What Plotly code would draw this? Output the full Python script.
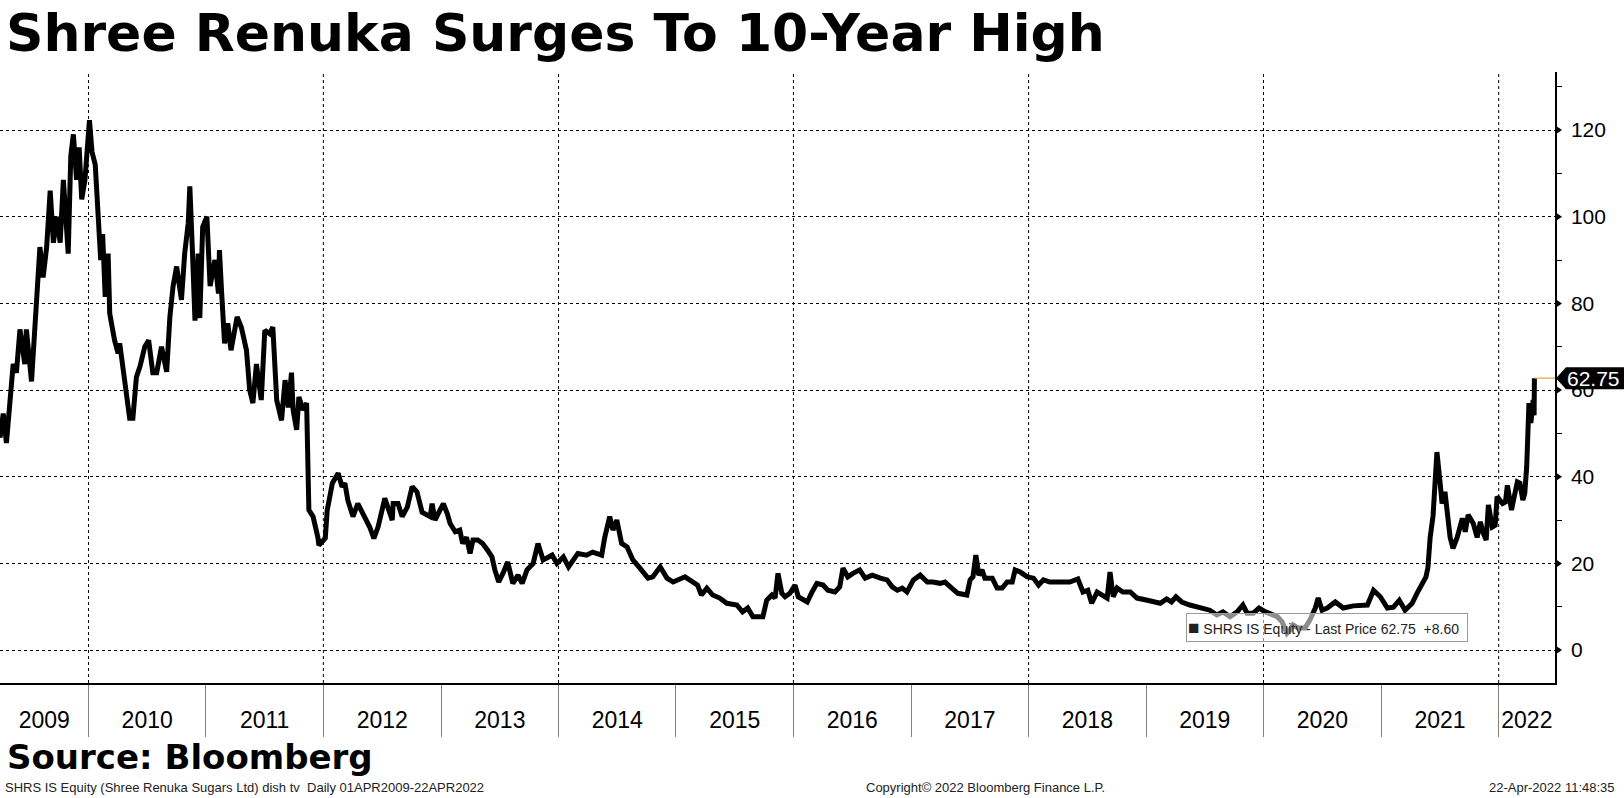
import plotly.graph_objects as go
import pandas as pd

# ---------------- data ----------------
dates = [
    "2009-04-01", "2009-04-11", "2009-04-21", "2009-05-02", "2009-05-12", "2009-05-22", "2009-06-02", "2009-06-17",
    "2009-06-22", "2009-07-08", "2009-07-18", "2009-07-23", "2009-08-03", "2009-08-13", "2009-08-24", "2009-09-04",
    "2009-09-14", "2009-09-24", "2009-10-05", "2009-10-15", "2009-10-30", "2009-11-07", "2009-11-15", "2009-11-25",
    "2009-12-03", "2009-12-11", "2009-12-21", "2010-01-04", "2010-01-12", "2010-01-22", "2010-01-29", "2010-02-08",
    "2010-02-14", "2010-02-22", "2010-03-03", "2010-03-08", "2010-03-23", "2010-04-03", "2010-04-08", "2010-04-24",
    "2010-05-09", "2010-05-19", "2010-05-30", "2010-06-10", "2010-06-25", "2010-07-07", "2010-07-20", "2010-08-01",
    "2010-08-16", "2010-09-01", "2010-09-11", "2010-09-21", "2010-10-02", "2010-10-17", "2010-10-27", "2010-11-07",
    "2010-11-12", "2010-11-20", "2010-11-28", "2010-12-08", "2010-12-13", "2010-12-22", "2011-01-04", "2011-01-14",
    "2011-01-29", "2011-02-09", "2011-02-12", "2011-02-19", "2011-02-28", "2011-03-10", "2011-03-20", "2011-04-08",
    "2011-04-21", "2011-05-07", "2011-05-17", "2011-05-27", "2011-06-07", "2011-06-22", "2011-07-03", "2011-07-18",
    "2011-07-28", "2011-08-09", "2011-08-24", "2011-09-04", "2011-09-14", "2011-09-24", "2011-09-29", "2011-10-10",
    "2011-10-17", "2011-10-30", "2011-11-10", "2011-11-17", "2011-11-30", "2011-12-15", "2011-12-18", "2012-01-07",
    "2012-01-13", "2012-01-29", "2012-02-16", "2012-02-28", "2012-03-08", "2012-03-17", "2012-04-02", "2012-04-17",
    "2012-05-03", "2012-05-24", "2012-06-06", "2012-06-19", "2012-07-10", "2012-08-02", "2012-08-05", "2012-08-20",
    "2012-09-02", "2012-09-18", "2012-10-03", "2012-10-18", "2012-11-03", "2012-11-28", "2012-12-04", "2012-12-13",
    "2012-12-23", "2013-01-08", "2013-01-20", "2013-01-29", "2013-02-14", "2013-02-28", "2013-03-09", "2013-03-21",
    "2013-04-01", "2013-04-10", "2013-04-25", "2013-05-10", "2013-05-26", "2013-06-08", "2013-06-17", "2013-06-29",
    "2013-07-12", "2013-07-27", "2013-08-12", "2013-08-28", "2013-09-10", "2013-09-25", "2013-10-14", "2013-10-29",
    "2013-11-14", "2013-12-12", "2013-12-27", "2014-01-16", "2014-02-01", "2014-02-16", "2014-03-02", "2014-03-29",
    "2014-04-17", "2014-05-15", "2014-05-24", "2014-06-09", "2014-06-19", "2014-07-01", "2014-07-16", "2014-08-02",
    "2014-08-20", "2014-09-11", "2014-10-06", "2014-10-21", "2014-11-13", "2014-12-04", "2014-12-23", "2015-01-29",
    "2015-02-19", "2015-03-09", "2015-03-21", "2015-04-07", "2015-04-25", "2015-05-17", "2015-06-08", "2015-07-09",
    "2015-07-27", "2015-08-12", "2015-08-28", "2015-09-28", "2015-10-10", "2015-10-26", "2015-11-05", "2015-11-14",
    "2015-11-26", "2015-12-06", "2015-12-21", "2016-01-06", "2016-01-16", "2016-02-13", "2016-02-28", "2016-03-14",
    "2016-04-02", "2016-04-17", "2016-05-09", "2016-05-24", "2016-06-03", "2016-06-18", "2016-07-04", "2016-07-25",
    "2016-08-11", "2016-09-02", "2016-09-27", "2016-10-18", "2016-11-03", "2016-11-19", "2016-12-04", "2016-12-19",
    "2017-01-08", "2017-01-29", "2017-02-20", "2017-03-09", "2017-04-01", "2017-04-16", "2017-05-07", "2017-05-26",
    "2017-06-23", "2017-07-03", "2017-07-12", "2017-07-21", "2017-07-30", "2017-08-09", "2017-08-18", "2017-09-10",
    "2017-09-25", "2017-10-11", "2017-10-26", "2017-11-11", "2017-11-20", "2017-12-06", "2017-12-28", "2018-01-16",
    "2018-02-01", "2018-02-16", "2018-03-08", "2018-03-29", "2018-04-17", "2018-05-09", "2018-06-03", "2018-06-19",
    "2018-07-04", "2018-07-16", "2018-08-02", "2018-08-20", "2018-09-02", "2018-09-11", "2018-09-21", "2018-10-03",
    "2018-10-21", "2018-11-13", "2018-12-04", "2019-01-05", "2019-01-23", "2019-02-14", "2019-03-06", "2019-03-21",
    "2019-04-04", "2019-04-22", "2019-05-17", "2019-06-17", "2019-07-18", "2019-08-09", "2019-08-28", "2019-09-19",
    "2019-10-11", "2019-10-29", "2019-11-11", "2019-11-30", "2019-12-18", "2020-01-07", "2020-01-28", "2020-02-13",
    "2020-02-28", "2020-03-14", "2020-03-23", "2020-04-02", "2020-04-17", "2020-05-09", "2020-05-24", "2020-06-10",
    "2020-06-19", "2020-07-01", "2020-07-17", "2020-08-11", "2020-09-05", "2020-10-06", "2020-11-19", "2020-12-08",
    "2020-12-29", "2021-01-20", "2021-02-08", "2021-02-26", "2021-03-16", "2021-04-07", "2021-04-22", "2021-05-08",
    "2021-05-20", "2021-05-26", "2021-06-02", "2021-06-11", "2021-06-23", "2021-07-03", "2021-07-09", "2021-07-18",
    "2021-07-27", "2021-08-03", "2021-08-12", "2021-08-25", "2021-09-10", "2021-09-19", "2021-09-28", "2021-10-14",
    "2021-10-26", "2021-11-05", "2021-11-14", "2021-11-23", "2021-11-30", "2021-12-12", "2021-12-21", "2021-12-27",
    "2022-01-13", "2022-01-22", "2022-01-28", "2022-02-10", "2022-02-16", "2022-02-28", "2022-03-08", "2022-03-17",
    "2022-03-23", "2022-03-29", "2022-04-05", "2022-04-11", "2022-04-18", "2022-04-21", "2022-04-22",
]
prices = [
    49, 54.6, 47.8, 57.7, 66, 64, 74, 66,
    74, 62, 74.5, 84, 93, 86, 93, 106,
    94, 100, 94, 108.5, 91.5, 114, 119, 108.5,
    116, 104, 108.5, 122.3, 115, 112, 101.5, 90,
    96, 81.5, 91.5, 77.7, 71.5, 68.5, 70.8, 61.5,
    53.5, 53.5, 63, 65.4, 70, 71.5, 64, 64,
    70, 64.2, 76.9, 84, 88.5, 80.8, 91.5, 98.5,
    107, 92.3, 76, 91.5, 76.6, 97.7, 100, 84,
    90, 82.3, 92.3, 82.3, 70.8, 75.4, 69.2, 76.9,
    74.5, 69.2, 60, 57, 66, 57.7, 73.8, 73,
    74.5, 57.7, 53, 62.3, 56, 64, 55.4, 50.8,
    58.4, 55.4, 57, 32.3, 30.8, 26, 24.2, 25.8,
    32.3, 38.5, 40.8, 37.7, 38.5, 34.6, 30.8, 33.8,
    31.5, 28.4, 25.8, 28.4, 35, 30, 33.8, 33.8,
    30.8, 33, 37.7, 36.5, 31.8, 30.8, 33.8, 30,
    31.5, 33.8, 31.5, 29.2, 27.3, 27.7, 24.6, 26,
    22.3, 25.4, 25.4, 24.6, 23, 21.5, 18.5, 15.7,
    17.7, 20.3, 15.4, 17.3, 15.4, 18.5, 20, 24.6,
    20.8, 21.9, 20, 21.5, 19.2, 20.8, 22.3, 21.9,
    22.6, 21.9, 25.8, 30.8, 27.7, 30, 24.6, 23.8,
    20.8, 18.9, 16.6, 16.9, 19.2, 16.6, 15.7, 16.9,
    15.7, 15, 12.7, 14.3, 12.7, 12, 10.8, 10.4,
    8.8, 9.7, 7.7, 7.7, 11.5, 12.7, 12, 17.7,
    13.1, 12.3, 13.1, 15, 12.3, 11.1, 13.4, 15.4,
    15, 13.8, 13.4, 14.6, 18.9, 16.9, 17.7, 18.5,
    16.6, 17.3, 16.6, 16.2, 14.6, 13.8, 14.3, 13.4,
    16.2, 17.3, 15.7, 15.7, 15.4, 15.7, 14.3, 13.1,
    12.7, 16.2, 16.9, 21.9, 17.3, 18.5, 16.6, 16.6,
    14.3, 14.3, 15.7, 15.7, 18.5, 18, 16.9, 16.6,
    15, 16.2, 15.7, 15.7, 15.9, 15.7, 16.4, 13.4,
    13.8, 10.8, 13.4, 12.7, 12, 18, 12.3, 14.3,
    13.4, 13.4, 12, 11.5, 11.1, 10.8, 11.8, 11.1,
    12.3, 11.1, 10.4, 9.7, 9.2, 8.1, 8.8, 7.7,
    8.8, 10.4, 8.5, 8.5, 9.7, 8.8, 8.1, 7.7,
    6.5, 3.9, 4.6, 5.8, 5.1, 5.1, 6.9, 9.7,
    12, 9.2, 9.7, 11.1, 9.7, 10.2, 10.4, 13.8,
    12.3, 9.7, 9.9, 11.5, 9.2, 10.8, 13.1, 15.5,
    16.9, 19, 26, 31, 45.7, 38.5, 33.8, 36.5,
    31.5, 26, 23.5, 26, 30.4, 27.3, 31.2, 29.2,
    26, 29.6, 27, 25.4, 33.5, 28.4, 28.8, 35.4,
    33.8, 34.2, 38, 32.3, 34.6, 38.8, 38.5, 34.6,
    36.2, 42.3, 57, 52.4, 57.7, 54.15, 62.75,
]

x_range = ["2009-04-01", "2022-06-25"]
y_range = [-7.6, 133.4]
y_ticks = [0, 20, 40, 60, 80, 100, 120]
y_minor_ticks = [10, 30, 50, 70, 90, 110, 130]
year_labels = [str(y) for y in range(2009, 2023)]
grid_years = [2010, 2012, 2014, 2016, 2018, 2020, 2022]

title_text = "Shree Renuka Surges To 10-Year High"
source_text = "Source: Bloomberg"
foot_left = "SHRS IS Equity (Shree Renuka Sugars Ltd) dish tv\u00a0\u00a0Daily 01APR2009-22APR2022"
foot_mid = "Copyright\u00a9 2022 Bloomberg Finance L.P."
foot_right = "22-Apr-2022 11:48:35"

# ---------------- derived ----------------
r0, r1 = pd.Timestamp(x_range[0]), pd.Timestamp(x_range[1])
label_pos, sep_pos = [], []
for y in range(2009, 2023):
    s = max(pd.Timestamp(f"{y}-01-01"), r0)
    e = min(pd.Timestamp(f"{y + 1}-01-01"), r1)
    label_pos.append(s + (e - s) / 2)
    if y > 2009:
        sep_pos.append(pd.Timestamp(f"{y}-01-01"))

last = prices[-1]
change = prices[-1] - prices[-2]

W, H = 1624, 798
ML, MR, MT, MB = 0, 69, 72, 115
PW, PH = W - ML - MR, H - MT - MB


def px_x(px):
    return (px - ML) / PW


def px_y(py):
    return (H - MB - py) / PH


fig = go.Figure()
fig.add_trace(go.Scatter(
    x=pd.to_datetime(dates), y=prices, mode="lines",
    line=dict(color="black", width=5), hoverinfo="skip", showlegend=False,
))

# vertical dotted gridlines every two years
for gy in grid_years:
    fig.add_shape(type="line", xref="x", yref="paper", x0=f"{gy}-01-01", x1=f"{gy}-01-01",
                  y0=0, y1=1, line=dict(color="black", width=1, dash="dot"), layer="below")

# right-axis arrow ticks
for v in y_ticks:
    fig.add_shape(type="path", xref="paper", yref="y",
                  path=f"M 1.0 {v + 1.1} L {1.0 + 7 / PW} {v} L 1.0 {v - 1.1} Z",
                  fillcolor="black", line=dict(width=0), layer="above")

# last-price orange line and tag
fig.add_shape(type="line", xref="x", yref="y", x0=dates[-1], x1=x_range[1], y0=last, y1=last,
              line=dict(color="#f0a030", width=1.2), layer="above")
hh = 11 / (PH / (y_range[1] - y_range[0]))
fig.add_shape(type="path", xref="paper", yref="y",
              path=(f"M {px_x(1556)} {last} L {px_x(1566)} {last + hh} L {px_x(1626)} {last + hh} "
                    f"L {px_x(1626)} {last - hh} L {px_x(1566)} {last - hh} Z"),
              fillcolor="black", line=dict(width=0), layer="above")
fig.add_annotation(xref="paper", yref="y", x=px_x(1593), y=last, text=f"{last:.2f}", showarrow=False,
                   xanchor="center", yanchor="middle",
                   font=dict(family="Liberation Sans", size=21, color="white"))

# in-chart legend box
fig.add_annotation(xref="paper", yref="paper", x=px_x(1186), y=px_y(627), xanchor="left", yanchor="middle",
                   text=(f"<span style='font-size:19px'>\u25a0</span> SHRS IS Equity - Last Price "
                         f"{last:.2f}\u00a0\u00a0+{change:.2f}"),
                   showarrow=False, align="left", width=278, height=25,
                   bgcolor="rgba(255,255,255,0.55)", bordercolor="#9a9a9a", borderwidth=1, borderpad=1,
                   font=dict(family="Liberation Sans", size=14, color="#222"))

# title / source / footer
fig.add_annotation(xref="paper", yref="paper", x=px_x(4), y=px_y(33), xanchor="left", yanchor="middle",
                   text=title_text, showarrow=False,
                   font=dict(family="DejaVu Sans", size=52, color="black", weight="bold"))
fig.add_annotation(xref="paper", yref="paper", x=px_x(5), y=px_y(757), xanchor="left", yanchor="middle",
                   text=source_text, showarrow=False,
                   font=dict(family="DejaVu Sans", size=34, color="black", weight="bold"))
fig.add_annotation(xref="paper", yref="paper", x=px_x(3), y=px_y(788), xanchor="left", yanchor="middle",
                   text=foot_left, showarrow=False, font=dict(family="Liberation Sans", size=13, color="#222"))
fig.add_annotation(xref="paper", yref="paper", x=px_x(986), y=px_y(788), xanchor="center", yanchor="middle",
                   text=foot_mid, showarrow=False, font=dict(family="Liberation Sans", size=13, color="#222"))
fig.add_annotation(xref="paper", yref="paper", x=px_x(1617), y=px_y(788), xanchor="right", yanchor="middle",
                   text=foot_right, showarrow=False, font=dict(family="Liberation Sans", size=13, color="#222"))

fig.update_layout(
    width=W, height=H, margin=dict(l=ML, r=MR, t=MT, b=MB, pad=0),
    paper_bgcolor="white", plot_bgcolor="white", showlegend=False,
    xaxis=dict(
        type="date", range=x_range, tickmode="array", tickvals=label_pos, ticktext=year_labels,
        ticks="", showgrid=False, zeroline=False, showline=True, linecolor="black", linewidth=1.5,
        tickfont=dict(family="Liberation Sans", size=23, color="black"),
        ticklabelstandoff=16,
        minor=dict(tickmode="array", tickvals=sep_pos, ticks="outside", ticklen=52,
                   tickcolor="#808080", tickwidth=1, showgrid=False),
    ),
    yaxis=dict(
        side="right", range=y_range, tickmode="array", tickvals=y_ticks, ticks="",
        showgrid=True, gridcolor="black", griddash="dot", gridwidth=1, zeroline=False,
        showline=True, linecolor="black", linewidth=1.5,
        tickfont=dict(family="Liberation Sans", size=21, color="black"), ticklabelstandoff=10,
        minor=dict(tickmode="array", tickvals=y_minor_ticks, ticks="outside", ticklen=5,
                   tickcolor="black", tickwidth=1, showgrid=False),
    ),
)

fig.write_html("out.html", config={"displayModeBar": False},
               post_script="document.body.style.margin='0px';document.body.style.overflow='hidden';")
